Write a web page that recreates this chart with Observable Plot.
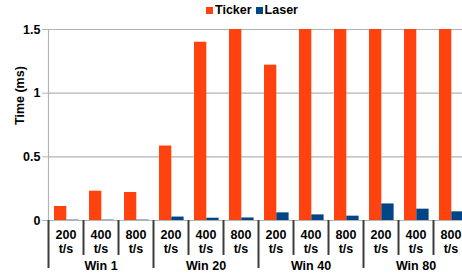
<!DOCTYPE html>
<html>
<head>
<meta charset="utf-8">
<script src="https://cdn.jsdelivr.net/npm/d3@7"></script>
<script src="https://cdn.jsdelivr.net/npm/@observablehq/plot@0.6"></script>
<style>
  html, body { margin: 0; padding: 0; background: #fff; overflow: hidden; }
  body { width: 462px; height: 273px; font-family: "Liberation Sans", Arial, sans-serif; }
  #legend { height: 20px; display: flex; align-items: center; padding-left: 206px; padding-top: 0px;
            font-weight: bold; font-size: 12.5px; color: #000; box-sizing: border-box; }
  #legend .sw { width: 7px; height: 7px; display: inline-block; margin-right: 2px; }
  #legend .item { display: flex; align-items: center; margin-right: 4px; }
</style>
</head>
<body>
<div id="legend"></div>
<div id="chart"></div>
<script>
const groups = ["Win 1", "Win 20", "Win 40", "Win 80"];
const rates = ["200\nt/s", "400\nt/s", "800\nt/s"];
const seriesNames = ["Ticker", "Laser"];
const seriesColors = ["#ff420e", "#004586"];
const ticker = [0.11, 0.23, 0.22, 0.585, 1.40, 1.5, 1.22, 1.5, 1.5, 1.5, 1.5, 1.5];
const laser = [0.003, 0.003, 0.003, 0.027, 0.018, 0.02, 0.06, 0.044, 0.034, 0.13, 0.089, 0.068];
const yTicks = [0, 0.5, 1, 1.5];

const rows = groups.flatMap((g, gi) => rates.map((r, ri) => ({
  key: g + "|" + r, group: g, rate: r, first: ri === 0, middle: ri === 1,
  Ticker: ticker[gi * 3 + ri], Laser: laser[gi * 3 + ri]
})));
const keys = rows.map(d => d.key);

const W = 462, H = 253, mL = 48, mR = -6, mT = 9, mB = 53;
const step = (W - mL - mR) / keys.length;

// legend
const leg = document.getElementById("legend");
seriesNames.forEach((s, i) => {
  const it = document.createElement("span");
  it.className = "item";
  it.innerHTML = `<span class="sw" style="background:${seriesColors[i]}"></span><span>${s}</span>`;
  leg.appendChild(it);
});

const chart = Plot.plot({
  width: W, height: H,
  marginLeft: mL, marginRight: mR, marginTop: mT, marginBottom: mB,
  style: { fontFamily: "'Liberation Sans', Arial, sans-serif", fontWeight: "bold", fontSize: "12.5px", color: "#000", background: "#fff" },
  x: { type: "band", domain: keys, padding: 0, axis: null },
  y: { domain: [0, 1.5], axis: null },
  marks: [
    Plot.gridY(yTicks.filter(d => d > 0), { stroke: "#b3b3b3", strokeOpacity: 1, strokeWidth: 1.2 }),
    Plot.axisY(yTicks, { tickSize: 6, tickPadding: 2, stroke: "#b3b3b3", fill: "#000", tickFormat: d => String(d), label: null, fontSize: 12.5 }),
    Plot.ruleX([0], { x: () => keys[0], dx: -step / 2, stroke: "#b3b3b3", strokeWidth: 1.2 }),
    Plot.barY(rows, { x: "key", y: "Ticker", fill: seriesColors[0], insetLeft: 6, insetRight: step - 18.3 }),
    Plot.barY(rows, { x: "key", y: "Laser", fill: seriesColors[1], insetLeft: 18.3, insetRight: step - 30.6 }),
    Plot.ruleY([0], { stroke: "#b3b3b3", strokeWidth: 1.2 }),
    Plot.ruleX(rows.filter(d => !d.first), { x: "key", y1: 0, y2: 0, dx: -step / 2, insetBottom: -35, stroke: "#3c3c3c", strokeWidth: 2 }),
    Plot.ruleX(rows.filter(d => d.first), { x: "key", y1: 0, y2: 0, dx: -step / 2, insetBottom: -48, stroke: "#3c3c3c", strokeWidth: 2 }),
    Plot.text(rows, { x: "key", text: "rate", frameAnchor: "bottom", dy: 8, lineAnchor: "top", lineHeight: 1.15, fill: "#000" }),
    Plot.text(rows.filter(d => d.middle), { x: "key", text: "group", frameAnchor: "bottom", dy: 45, lineAnchor: "middle", fill: "#000" }),
    Plot.text(["Time (ms)"], { frameAnchor: "left", rotate: -90, dx: -29, dy: 0, fill: "#000" })
  ]
});
document.getElementById("chart").appendChild(chart);
</script>
</body>
</html>
